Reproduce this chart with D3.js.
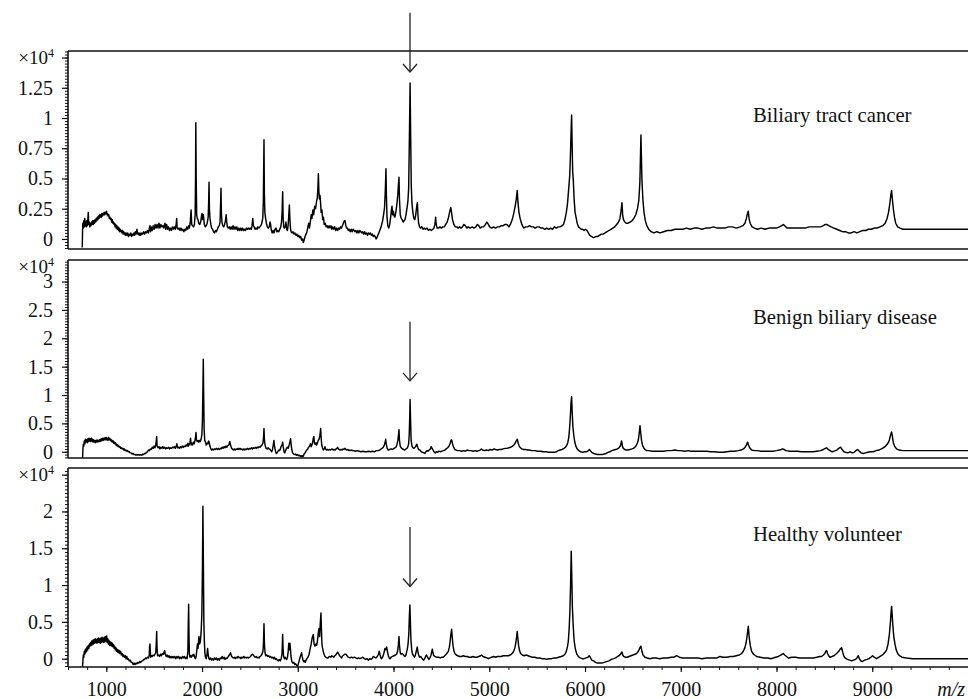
<!DOCTYPE html>
<html><head><meta charset="utf-8">
<script src="https://cdn.jsdelivr.net/npm/d3@7"></script>
<style>
body{margin:0;background:#fff}
svg text{font-family:"Liberation Serif","DejaVu Serif",serif !important;fill:#111}
</style>
</head><body>
<svg id="chart" width="968" height="699"></svg>
<script>
// ---------- data (intensity in units of 10^4) ----------
const panelNames = ["Biliary tract cancer", "Benign biliary disease", "Healthy volunteer"];
const xTicks = [1000, 2000, 3000, 4000, 5000, 6000, 7000, 8000, 9000];
const xMinorTicks = d3.range(600, 10001, 200);
const yTicksCancer = [0, 0.25, 0.5, 0.75, 1, 1.25, 1.5];
const yTicksBenign = [0, 0.5, 1, 1.5, 2, 2.5, 3];
const yTicksHealthy = [0, 0.5, 1, 1.5, 2, 2.5];
const arrowMz = 4172;
const arrowSpans = [[1.87, 1.38], [2.29, 1.25], [1.79, 0.98]];

const cancerSpectrum = [
[749,-0.07],[752,0.06],[755,0.13],[760,0.09],[765,0.15],[770,0.1],[775,0.17],[780,0.11],[785,0.14],[790,0.1],[796,0.15],[802,0.11],[808,0.17],[812,0.22],[816,0.12],[822,0.14],[828,0.1],[834,0.13],[840,0.11],[846,0.14],[852,0.12],[858,0.15],[864,0.12],[870,0.15],[876,0.13],[882,0.16],[888,0.14],[894,0.17],[900,0.15],[906,0.18],[912,0.16],[918,0.19],[924,0.17],[930,0.2],[936,0.18],[942,0.2],[948,0.18],[954,0.21],[960,0.19],[966,0.21],[972,0.2],[978,0.22],[984,0.2],[990,0.22],[996,0.21],[1002,0.23],[1008,0.2],[1014,0.21],[1020,0.19],[1026,0.2],[1032,0.17],[1038,0.18],[1044,0.16],[1050,0.17],[1056,0.14],[1062,0.16],[1068,0.13],[1074,0.14],[1080,0.12],[1086,0.13],[1092,0.1],[1098,0.12],[1104,0.09],[1110,0.11],[1116,0.08],[1122,0.1],[1128,0.07],[1134,0.09],[1140,0.06],[1146,0.08],[1152,0.06],[1158,0.07],[1164,0.05],[1170,0.07],[1176,0.04],[1182,0.06],[1188,0.04],[1194,0.05],[1200,0.03],[1208,0.05],[1216,0.03],[1224,0.05],[1232,0.02],[1240,0.04],[1248,0.03],[1256,0.05],[1264,0.02],[1272,0.04],[1280,0.03],[1288,0.05],[1296,0.03],[1304,0.06],[1312,0.04],[1320,0.08],[1328,0.04],[1336,0.05],[1344,0.03],[1352,0.05],[1360,0.03],[1370,0.05],[1380,0.04],[1390,0.06],[1400,0.04],[1410,0.06],[1420,0.05],[1430,0.07],[1440,0.05],[1450,0.09],[1456,0.11],[1462,0.06],[1470,0.1],[1480,0.07],[1490,0.11],[1500,0.08],[1510,0.12],[1520,0.09],[1530,0.12],[1540,0.09],[1550,0.13],[1560,0.09],[1570,0.12],[1580,0.1],[1590,0.11],[1600,0.09],[1608,0.12],[1613,0.13],[1620,0.08],[1630,0.12],[1640,0.08],[1650,0.1],[1660,0.07],[1670,0.09],[1680,0.07],[1690,0.1],[1700,0.08],[1710,0.1],[1720,0.08],[1730,0.12],[1735,0.17],[1740,0.09],[1750,0.08],[1760,0.09],[1770,0.07],[1780,0.09],[1790,0.07],[1800,0.08],[1810,0.06],[1820,0.08],[1830,0.07],[1840,0.1],[1850,0.08],[1860,0.11],[1868,0.09],[1876,0.13],[1882,0.2],[1886,0.24],[1892,0.12],[1900,0.11],[1910,0.1],[1920,0.12],[1928,0.2],[1932,0.5],[1935,0.96],[1939,0.5],[1944,0.2],[1950,0.17],[1958,0.16],[1966,0.13],[1976,0.12],[1986,0.14],[1994,0.19],[2000,0.21],[2006,0.16],[2014,0.2],[2024,0.12],[2034,0.1],[2044,0.11],[2054,0.13],[2064,0.18],[2069,0.3],[2073,0.47],[2077,0.25],[2083,0.17],[2092,0.12],[2100,0.09],[2110,0.08],[2120,0.06],[2130,0.05],[2140,0.07],[2150,0.06],[2160,0.08],[2170,0.1],[2180,0.11],[2188,0.14],[2194,0.3],[2198,0.42],[2202,0.22],[2208,0.14],[2216,0.11],[2226,0.1],[2236,0.12],[2244,0.15],[2252,0.2],[2258,0.14],[2264,0.1],[2274,0.09],[2284,0.1],[2294,0.08],[2304,0.1],[2314,0.08],[2324,0.11],[2334,0.08],[2344,0.1],[2354,0.08],[2364,0.1],[2374,0.07],[2384,0.09],[2394,0.07],[2404,0.09],[2414,0.07],[2424,0.09],[2434,0.07],[2444,0.08],[2454,0.07],[2464,0.09],[2474,0.08],[2484,0.09],[2494,0.08],[2504,0.09],[2514,0.08],[2522,0.11],[2530,0.17],[2536,0.11],[2544,0.1],[2554,0.08],[2564,0.09],[2574,0.08],[2584,0.1],[2594,0.09],[2604,0.1],[2614,0.11],[2624,0.13],[2634,0.17],[2640,0.3],[2647,0.82],[2651,0.38],[2656,0.22],[2664,0.17],[2672,0.13],[2682,0.1],[2692,0.09],[2702,0.1],[2710,0.14],[2716,0.12],[2722,0.08],[2732,0.05],[2742,0.07],[2752,0.05],[2762,0.08],[2772,0.09],[2782,0.06],[2792,0.07],[2802,0.06],[2812,0.08],[2822,0.1],[2830,0.14],[2836,0.22],[2842,0.39],[2847,0.18],[2853,0.1],[2860,0.09],[2868,0.1],[2876,0.14],[2884,0.08],[2892,0.07],[2900,0.12],[2906,0.2],[2912,0.28],[2917,0.18],[2923,0.09],[2930,0.06],[2940,0.05],[2950,0.06],[2960,0.04],[2970,0.05],[2980,0.03],[2990,0.04],[3000,0.02],[3010,0.03],[3020,0.01],[3030,0.02],[3040,-0.01],[3050,0.0],[3058,-0.03],[3066,-0.01],[3076,0.02],[3086,0.04],[3096,0.06],[3106,0.1],[3114,0.13],[3122,0.09],[3132,0.15],[3140,0.2],[3148,0.17],[3158,0.24],[3166,0.2],[3176,0.27],[3186,0.25],[3196,0.31],[3204,0.34],[3210,0.42],[3215,0.54],[3220,0.4],[3226,0.33],[3232,0.36],[3238,0.3],[3244,0.22],[3252,0.24],[3260,0.16],[3268,0.18],[3276,0.12],[3286,0.13],[3296,0.1],[3306,0.11],[3316,0.09],[3326,0.11],[3336,0.09],[3346,0.11],[3356,0.08],[3366,0.1],[3376,0.08],[3386,0.1],[3396,0.07],[3406,0.09],[3416,0.07],[3426,0.09],[3436,0.08],[3446,0.1],[3456,0.09],[3466,0.11],[3476,0.13],[3486,0.15],[3494,0.15],[3502,0.11],[3510,0.09],[3518,0.09],[3528,0.07],[3538,0.08],[3548,0.06],[3558,0.08],[3568,0.06],[3578,0.08],[3588,0.07],[3598,0.06],[3608,0.07],[3618,0.05],[3628,0.07],[3638,0.05],[3648,0.07],[3658,0.06],[3668,0.05],[3678,0.06],[3688,0.04],[3698,0.06],[3708,0.04],[3718,0.05],[3728,0.03],[3738,0.05],[3748,0.04],[3758,0.05],[3768,0.03],[3778,0.04],[3788,0.02],[3798,0.03],[3808,0.02],[3818,0.0],[3826,0.01],[3836,0.03],[3846,0.05],[3856,0.07],[3866,0.09],[3876,0.12],[3886,0.15],[3896,0.2],[3906,0.26],[3914,0.4],[3921,0.58],[3926,0.35],[3932,0.18],[3940,0.11],[3950,0.09],[3960,0.12],[3970,0.18],[3978,0.24],[3984,0.27],[3990,0.2],[3998,0.23],[4006,0.19],[4014,0.18],[4024,0.22],[4034,0.28],[4044,0.36],[4052,0.46],[4057,0.51],[4062,0.33],[4070,0.2],[4080,0.17],[4090,0.16],[4100,0.14],[4110,0.15],[4120,0.16],[4130,0.2],[4140,0.25],[4150,0.31],[4158,0.42],[4165,0.8],[4173,1.29],[4179,0.85],[4185,0.45],[4192,0.3],[4202,0.22],[4212,0.17],[4222,0.16],[4232,0.2],[4242,0.27],[4249,0.3],[4255,0.2],[4262,0.13],[4272,0.1],[4282,0.09],[4295,0.1],[4308,0.08],[4320,0.09],[4335,0.08],[4350,0.09],[4365,0.07],[4380,0.08],[4395,0.07],[4410,0.08],[4422,0.09],[4432,0.12],[4440,0.18],[4446,0.12],[4455,0.09],[4470,0.09],[4485,0.1],[4500,0.09],[4515,0.1],[4530,0.1],[4545,0.12],[4560,0.14],[4575,0.18],[4588,0.23],[4598,0.26],[4606,0.22],[4616,0.16],[4630,0.12],[4645,0.1],[4660,0.1],[4675,0.09],[4690,0.1],[4705,0.09],[4720,0.1],[4735,0.12],[4750,0.11],[4765,0.09],[4780,0.1],[4800,0.09],[4820,0.1],[4840,0.09],[4860,0.1],[4875,0.12],[4890,0.11],[4905,0.09],[4920,0.1],[4940,0.1],[4960,0.12],[4975,0.14],[4990,0.12],[5005,0.1],[5025,0.09],[5045,0.1],[5065,0.09],[5085,0.1],[5105,0.1],[5125,0.11],[5145,0.11],[5165,0.12],[5185,0.12],[5205,0.1],[5220,0.12],[5240,0.16],[5255,0.21],[5270,0.27],[5282,0.33],[5292,0.4],[5300,0.3],[5310,0.22],[5322,0.17],[5340,0.12],[5360,0.09],[5380,0.1],[5400,0.1],[5420,0.11],[5440,0.1],[5460,0.1],[5480,0.09],[5500,0.1],[5520,0.1],[5540,0.09],[5560,0.09],[5580,0.08],[5600,0.09],[5620,0.08],[5640,0.09],[5660,0.08],[5680,0.1],[5700,0.09],[5720,0.1],[5740,0.1],[5760,0.11],[5775,0.12],[5790,0.16],[5805,0.22],[5818,0.3],[5830,0.42],[5840,0.52],[5848,0.7],[5855,0.9],[5860,1.025],[5865,0.8],[5871,0.56],[5878,0.48],[5886,0.33],[5896,0.22],[5906,0.18],[5918,0.13],[5932,0.1],[5946,0.09],[5960,0.08],[5975,0.08],[5990,0.07],[6005,0.08],[6020,0.07],[6035,0.05],[6050,0.03],[6070,0.02],[6090,0.01],[6110,0.02],[6130,0.02],[6150,0.03],[6170,0.04],[6190,0.04],[6210,0.05],[6230,0.06],[6250,0.07],[6270,0.08],[6290,0.09],[6310,0.1],[6330,0.12],[6350,0.14],[6365,0.17],[6376,0.23],[6386,0.3],[6393,0.2],[6402,0.16],[6415,0.14],[6430,0.13],[6450,0.13],[6470,0.14],[6490,0.15],[6510,0.17],[6530,0.2],[6548,0.25],[6562,0.32],[6573,0.47],[6584,0.86],[6594,0.5],[6604,0.33],[6616,0.22],[6630,0.15],[6645,0.11],[6665,0.08],[6690,0.06],[6720,0.05],[6750,0.06],[6783,0.05],[6820,0.06],[6860,0.07],[6900,0.07],[6940,0.08],[6980,0.08],[7020,0.08],[7060,0.09],[7100,0.08],[7140,0.09],[7180,0.09],[7220,0.08],[7260,0.09],[7300,0.09],[7340,0.1],[7380,0.09],[7420,0.09],[7460,0.09],[7500,0.1],[7540,0.1],[7580,0.09],[7620,0.1],[7650,0.11],[7670,0.13],[7685,0.17],[7696,0.21],[7705,0.23],[7713,0.17],[7725,0.13],[7745,0.1],[7770,0.09],[7800,0.08],[7840,0.09],[7880,0.08],[7920,0.09],[7960,0.09],[8000,0.09],[8030,0.1],[8055,0.11],[8071,0.12],[8085,0.11],[8110,0.09],[8140,0.09],[8180,0.09],[8220,0.09],[8260,0.09],[8300,0.09],[8340,0.1],[8380,0.1],[8420,0.1],[8460,0.1],[8490,0.11],[8510,0.12],[8524,0.12],[8545,0.11],[8570,0.1],[8600,0.09],[8630,0.08],[8660,0.07],[8690,0.06],[8720,0.06],[8750,0.05],[8780,0.05],[8810,0.06],[8840,0.05],[8870,0.06],[8900,0.07],[8930,0.07],[8960,0.08],[8990,0.08],[9020,0.09],[9050,0.09],[9080,0.1],[9110,0.11],[9135,0.13],[9155,0.17],[9170,0.22],[9185,0.3],[9195,0.37],[9202,0.4],[9210,0.33],[9220,0.25],[9232,0.18],[9245,0.13],[9265,0.1],[9290,0.09],[9320,0.08],[9360,0.08],[9400,0.08],[9450,0.08],[9500,0.08],[9550,0.08],[9600,0.08],[9650,0.08],[9700,0.08],[9750,0.08],[9800,0.08],[9850,0.08],[9900,0.08],[9950,0.08],[10000,0.08]
];

const benignSpectrum = [
[752,-0.12],[756,0.05],[760,0.13],[765,0.1],[770,0.19],[776,0.14],[782,0.22],[788,0.17],[795,0.21],[802,0.16],[808,0.23],[814,0.18],[820,0.24],[826,0.19],[832,0.23],[838,0.18],[844,0.24],[850,0.19],[856,0.22],[862,0.17],[868,0.21],[874,0.17],[880,0.2],[886,0.16],[892,0.2],[898,0.17],[904,0.21],[910,0.17],[916,0.2],[922,0.18],[928,0.21],[934,0.18],[940,0.22],[946,0.19],[952,0.23],[958,0.2],[964,0.24],[970,0.2],[976,0.24],[982,0.21],[988,0.25],[994,0.21],[1000,0.25],[1006,0.21],[1012,0.24],[1018,0.2],[1024,0.25],[1030,0.21],[1036,0.24],[1042,0.2],[1048,0.22],[1054,0.18],[1060,0.2],[1066,0.17],[1072,0.19],[1078,0.15],[1084,0.17],[1090,0.14],[1096,0.16],[1102,0.12],[1108,0.13],[1114,0.1],[1120,0.12],[1126,0.09],[1132,0.1],[1138,0.08],[1144,0.09],[1150,0.06],[1158,0.07],[1166,0.05],[1174,0.06],[1182,0.03],[1190,0.05],[1198,0.02],[1206,0.03],[1214,0.01],[1222,0.02],[1230,0.0],[1240,0.0],[1250,-0.02],[1260,-0.02],[1270,-0.04],[1280,-0.03],[1290,-0.05],[1300,-0.05],[1310,-0.06],[1320,-0.05],[1330,-0.06],[1340,-0.05],[1350,-0.06],[1360,-0.05],[1370,-0.06],[1380,-0.04],[1390,-0.05],[1400,-0.03],[1410,-0.03],[1420,-0.01],[1430,0.0],[1440,0.03],[1450,0.02],[1460,0.05],[1470,0.04],[1480,0.08],[1490,0.06],[1500,0.1],[1508,0.07],[1516,0.12],[1521,0.18],[1526,0.27],[1531,0.1],[1540,0.07],[1550,0.09],[1560,0.05],[1570,0.08],[1580,0.06],[1590,0.09],[1600,0.06],[1610,0.08],[1620,0.05],[1630,0.07],[1640,0.06],[1650,0.08],[1660,0.05],[1670,0.07],[1680,0.06],[1690,0.08],[1700,0.07],[1710,0.09],[1720,0.06],[1730,0.1],[1738,0.14],[1744,0.07],[1754,0.08],[1764,0.06],[1774,0.09],[1784,0.07],[1794,0.1],[1804,0.08],[1814,0.1],[1824,0.09],[1834,0.12],[1844,0.1],[1852,0.15],[1858,0.1],[1866,0.13],[1874,0.16],[1880,0.24],[1886,0.12],[1894,0.15],[1902,0.12],[1910,0.17],[1918,0.14],[1926,0.2],[1932,0.26],[1937,0.34],[1942,0.2],[1950,0.18],[1958,0.2],[1966,0.17],[1974,0.2],[1982,0.18],[1990,0.22],[1998,0.3],[2004,0.55],[2010,1.2],[2013,1.63],[2017,1.0],[2022,0.4],[2028,0.2],[2036,0.17],[2044,0.12],[2052,0.15],[2060,0.14],[2068,0.19],[2074,0.17],[2082,0.1],[2090,0.06],[2100,0.03],[2110,0.05],[2120,0.03],[2130,0.05],[2140,0.04],[2150,0.06],[2160,0.04],[2170,0.06],[2180,0.04],[2190,0.06],[2200,0.05],[2210,0.08],[2220,0.06],[2230,0.09],[2240,0.07],[2250,0.1],[2260,0.08],[2270,0.11],[2280,0.12],[2290,0.18],[2298,0.12],[2306,0.07],[2316,0.05],[2326,0.03],[2336,0.05],[2346,0.03],[2356,0.05],[2366,0.04],[2376,0.06],[2386,0.04],[2396,0.06],[2406,0.04],[2416,0.05],[2426,0.03],[2436,0.05],[2446,0.03],[2456,0.05],[2466,0.04],[2476,0.06],[2486,0.04],[2496,0.06],[2506,0.05],[2516,0.07],[2526,0.05],[2536,0.07],[2546,0.06],[2556,0.08],[2566,0.06],[2576,0.08],[2586,0.07],[2596,0.09],[2606,0.08],[2616,0.1],[2626,0.12],[2636,0.15],[2642,0.25],[2647,0.41],[2652,0.2],[2660,0.1],[2670,0.06],[2680,0.05],[2690,0.07],[2700,0.05],[2710,0.04],[2720,0.02],[2728,0.0],[2736,0.04],[2744,0.12],[2751,0.2],[2757,0.1],[2765,0.03],[2772,-0.02],[2780,-0.03],[2790,0.0],[2800,0.03],[2810,0.02],[2820,0.06],[2828,0.1],[2836,0.12],[2842,0.17],[2848,0.09],[2856,0.0],[2864,-0.02],[2872,0.02],[2880,0.05],[2890,0.08],[2900,0.06],[2910,0.12],[2918,0.18],[2925,0.23],[2931,0.12],[2938,0.03],[2946,-0.02],[2956,-0.04],[2966,-0.05],[2976,-0.04],[2986,-0.06],[2996,-0.05],[3006,-0.07],[3016,-0.06],[3026,-0.08],[3036,-0.07],[3044,-0.09],[3052,-0.07],[3058,-0.08],[3066,-0.04],[3076,-0.02],[3086,0.01],[3094,0.03],[3104,0.05],[3114,0.08],[3124,0.1],[3132,0.14],[3140,0.09],[3148,0.12],[3156,0.18],[3162,0.24],[3168,0.27],[3174,0.15],[3182,0.13],[3190,0.16],[3197,0.12],[3205,0.15],[3214,0.2],[3222,0.22],[3230,0.28],[3236,0.36],[3239,0.41],[3244,0.25],[3250,0.12],[3258,0.07],[3267,0.03],[3276,0.05],[3284,0.09],[3290,0.05],[3300,0.03],[3310,0.04],[3320,0.03],[3330,0.04],[3340,0.03],[3350,0.04],[3360,0.05],[3370,0.03],[3380,0.04],[3390,0.03],[3400,0.05],[3410,0.06],[3416,0.08],[3422,0.05],[3432,0.04],[3442,0.03],[3452,0.04],[3462,0.03],[3472,0.05],[3482,0.04],[3493,0.06],[3503,0.04],[3513,0.03],[3523,0.04],[3533,0.02],[3543,0.03],[3553,0.02],[3563,0.03],[3573,0.02],[3583,0.02],[3600,0.01],[3620,0.02],[3640,0.01],[3660,0.0],[3680,0.01],[3700,0.0],[3719,0.0],[3740,0.01],[3760,0.0],[3780,0.01],[3800,0.0],[3820,0.02],[3840,0.02],[3858,0.03],[3870,0.05],[3880,0.06],[3893,0.08],[3905,0.12],[3913,0.18],[3918,0.22],[3924,0.14],[3932,0.07],[3945,0.03],[3960,0.04],[3975,0.05],[3990,0.04],[4005,0.06],[4015,0.07],[4025,0.08],[4035,0.12],[4045,0.2],[4052,0.3],[4057,0.39],[4062,0.2],[4070,0.1],[4080,0.07],[4092,0.05],[4105,0.04],[4118,0.03],[4130,0.05],[4140,0.06],[4150,0.09],[4158,0.14],[4164,0.3],[4169,0.6],[4173,0.92],[4178,0.55],[4184,0.2],[4192,0.1],[4200,0.08],[4210,0.06],[4220,0.07],[4230,0.09],[4238,0.12],[4244,0.13],[4252,0.08],[4262,0.04],[4275,0.03],[4290,0.0],[4305,-0.01],[4318,-0.02],[4328,-0.03],[4338,0.0],[4350,0.02],[4360,0.01],[4372,0.03],[4385,0.05],[4393,0.09],[4400,0.07],[4410,0.04],[4422,0.0],[4435,-0.02],[4448,0.0],[4460,-0.01],[4475,0.01],[4490,0.0],[4505,0.01],[4520,0.02],[4535,0.03],[4550,0.05],[4565,0.07],[4580,0.1],[4592,0.15],[4600,0.2],[4607,0.21],[4615,0.15],[4625,0.09],[4640,0.04],[4655,0.03],[4670,0.02],[4690,0.02],[4710,0.01],[4730,0.02],[4750,0.01],[4770,0.03],[4790,0.02],[4810,0.02],[4830,0.01],[4850,0.02],[4870,0.01],[4890,0.02],[4905,0.03],[4918,0.05],[4930,0.03],[4950,0.02],[4970,0.03],[4990,0.02],[5010,0.04],[5030,0.03],[5050,0.05],[5065,0.04],[5085,0.03],[5105,0.04],[5125,0.04],[5145,0.05],[5165,0.06],[5185,0.06],[5205,0.07],[5225,0.08],[5245,0.1],[5262,0.13],[5275,0.17],[5285,0.2],[5293,0.22],[5302,0.15],[5313,0.1],[5325,0.07],[5340,0.05],[5360,0.04],[5380,0.04],[5400,0.03],[5420,0.03],[5440,0.02],[5460,0.02],[5480,0.02],[5500,0.01],[5520,0.01],[5540,0.01],[5560,0.0],[5580,0.0],[5600,0.0],[5620,-0.01],[5640,-0.01],[5660,-0.01],[5680,-0.01],[5700,0.0],[5720,0.02],[5740,0.03],[5760,0.04],[5780,0.06],[5795,0.08],[5808,0.11],[5820,0.16],[5830,0.25],[5838,0.4],[5846,0.6],[5853,0.85],[5860,0.97],[5866,0.7],[5873,0.45],[5882,0.3],[5892,0.18],[5904,0.1],[5918,0.05],[5935,0.02],[5955,0.0],[5975,-0.01],[5995,0.0],[6015,0.0],[6035,0.02],[6045,0.04],[6055,0.02],[6070,-0.01],[6090,-0.03],[6110,-0.04],[6130,-0.05],[6156,-0.05],[6180,-0.05],[6200,-0.04],[6220,-0.03],[6240,-0.01],[6260,0.0],[6280,0.02],[6300,0.03],[6320,0.04],[6340,0.05],[6355,0.07],[6368,0.1],[6376,0.15],[6382,0.19],[6390,0.1],[6400,0.06],[6415,0.04],[6430,0.03],[6450,0.03],[6470,0.04],[6490,0.05],[6505,0.06],[6520,0.08],[6535,0.11],[6548,0.16],[6558,0.22],[6566,0.33],[6574,0.46],[6582,0.33],[6590,0.2],[6600,0.12],[6612,0.07],[6625,0.04],[6645,0.02],[6670,0.02],[6700,0.01],[6740,0.01],[6780,0.01],[6820,0.01],[6860,0.02],[6900,0.02],[6939,0.03],[6970,0.02],[7000,0.02],[7040,0.01],[7078,0.02],[7110,0.01],[7150,0.01],[7190,0.01],[7230,0.01],[7270,0.01],[7310,0.0],[7350,0.0],[7400,-0.01],[7444,-0.01],[7480,0.0],[7520,0.01],[7560,0.01],[7600,0.02],[7630,0.03],[7655,0.05],[7672,0.08],[7686,0.12],[7698,0.17],[7708,0.12],[7720,0.07],[7740,0.03],[7770,0.02],[7800,0.02],[7840,0.01],[7880,0.01],[7920,0.01],[7960,0.01],[8000,0.02],[8030,0.03],[8050,0.04],[8063,0.05],[8078,0.04],[8100,0.02],[8140,0.01],[8180,0.01],[8220,0.01],[8260,0.0],[8300,0.0],[8340,0.0],[8380,0.0],[8420,0.01],[8460,0.02],[8490,0.04],[8510,0.06],[8523,0.07],[8540,0.04],[8560,0.02],[8580,0.0],[8600,0.01],[8630,0.03],[8650,0.06],[8669,0.08],[8685,0.04],[8705,0.0],[8720,-0.01],[8745,-0.02],[8770,0.0],[8790,-0.02],[8810,-0.01],[8830,0.02],[8847,0.04],[8865,0.01],[8885,-0.02],[8906,-0.03],[8930,-0.02],[8955,-0.01],[8980,0.0],[9010,0.0],[9040,0.02],[9070,0.03],[9095,0.05],[9115,0.07],[9140,0.1],[9160,0.14],[9178,0.2],[9192,0.3],[9202,0.35],[9210,0.27],[9220,0.16],[9236,0.09],[9255,0.05],[9280,0.03],[9323,0.02],[9380,0.02],[9440,0.02],[9500,0.02],[9560,0.02],[9620,0.02],[9680,0.02],[9740,0.02],[9800,0.02],[9860,0.02],[9920,0.02],[10000,0.02]
];

const healthySpectrum = [
[752,-0.11],[756,-0.02],[760,0.05],[765,0.02],[770,0.1],[775,0.06],[780,0.12],[785,0.08],[790,0.14],[795,0.1],[800,0.16],[806,0.12],[812,0.18],[818,0.14],[824,0.2],[830,0.17],[836,0.22],[842,0.18],[848,0.24],[854,0.19],[860,0.25],[866,0.2],[872,0.26],[878,0.21],[884,0.27],[890,0.22],[896,0.26],[902,0.21],[908,0.27],[914,0.22],[920,0.28],[926,0.22],[932,0.27],[938,0.21],[944,0.28],[950,0.22],[956,0.29],[962,0.23],[968,0.28],[974,0.22],[980,0.29],[986,0.23],[992,0.3],[998,0.24],[1004,0.31],[1010,0.22],[1016,0.27],[1022,0.2],[1028,0.25],[1034,0.18],[1040,0.23],[1046,0.18],[1052,0.22],[1058,0.17],[1064,0.21],[1070,0.16],[1076,0.19],[1082,0.14],[1088,0.17],[1094,0.12],[1100,0.15],[1106,0.1],[1112,0.13],[1118,0.09],[1124,0.12],[1130,0.08],[1136,0.11],[1142,0.07],[1150,0.1],[1158,0.05],[1166,0.07],[1174,0.03],[1182,0.05],[1190,0.02],[1198,0.04],[1206,0.0],[1214,0.03],[1222,-0.01],[1230,0.0],[1240,-0.03],[1250,-0.02],[1260,-0.05],[1270,-0.05],[1280,-0.08],[1290,-0.06],[1300,-0.08],[1310,-0.06],[1320,-0.07],[1330,-0.05],[1340,-0.06],[1350,-0.04],[1360,-0.05],[1370,-0.03],[1380,-0.03],[1390,-0.01],[1400,-0.01],[1410,0.01],[1420,0.0],[1430,0.02],[1440,0.01],[1448,0.04],[1452,0.15],[1456,0.2],[1460,0.1],[1464,0.02],[1472,0.04],[1480,0.03],[1490,0.05],[1500,0.04],[1508,0.06],[1516,0.08],[1522,0.2],[1526,0.37],[1530,0.15],[1536,0.04],[1546,0.05],[1556,0.03],[1566,0.06],[1576,0.04],[1586,0.07],[1596,0.06],[1604,0.09],[1610,0.11],[1616,0.06],[1626,0.03],[1636,0.05],[1646,0.02],[1656,0.04],[1666,0.01],[1676,0.03],[1686,0.01],[1696,0.03],[1706,0.01],[1716,0.03],[1726,0.0],[1736,0.03],[1746,0.01],[1756,0.03],[1766,0.0],[1776,0.02],[1786,0.0],[1796,0.03],[1806,0.01],[1816,0.03],[1826,0.0],[1836,0.02],[1844,0.0],[1852,0.1],[1856,0.45],[1860,0.74],[1864,0.3],[1868,0.06],[1874,0.02],[1882,0.04],[1890,0.02],[1898,0.05],[1906,0.04],[1914,0.06],[1922,0.02],[1930,0.0],[1938,0.03],[1946,0.12],[1952,0.2],[1958,0.14],[1964,0.25],[1968,0.3],[1974,0.2],[1982,0.23],[1990,0.35],[1998,0.6],[2004,1.2],[2009,2.07],[2014,1.3],[2019,0.5],[2024,0.24],[2030,0.08],[2036,0.02],[2044,0.0],[2052,0.06],[2058,0.14],[2064,0.06],[2072,0.0],[2080,-0.01],[2090,0.01],[2100,-0.02],[2110,0.0],[2120,-0.02],[2130,0.01],[2140,-0.01],[2150,0.01],[2160,-0.02],[2170,0.0],[2180,-0.02],[2190,0.01],[2200,0.0],[2210,0.03],[2220,0.0],[2230,0.02],[2240,-0.01],[2250,0.01],[2260,0.0],[2270,0.02],[2280,0.04],[2290,0.06],[2298,0.08],[2306,0.04],[2316,0.02],[2326,0.01],[2336,0.02],[2346,0.0],[2356,0.02],[2366,0.01],[2376,0.03],[2386,0.01],[2396,0.02],[2406,0.0],[2416,0.02],[2426,0.01],[2436,0.03],[2446,0.01],[2456,0.02],[2466,0.01],[2476,0.02],[2486,0.01],[2496,0.02],[2506,0.03],[2516,0.05],[2526,0.06],[2536,0.05],[2546,0.03],[2556,0.02],[2566,0.03],[2576,0.01],[2586,0.02],[2596,0.01],[2606,0.03],[2616,0.04],[2626,0.06],[2636,0.1],[2642,0.22],[2647,0.475],[2652,0.2],[2658,0.08],[2666,0.04],[2676,0.05],[2686,0.03],[2696,0.04],[2706,0.02],[2716,0.03],[2726,0.01],[2736,0.02],[2746,0.0],[2756,0.02],[2766,-0.01],[2776,0.0],[2786,-0.02],[2796,-0.03],[2806,-0.01],[2816,-0.03],[2826,0.0],[2834,0.05],[2838,0.15],[2842,0.33],[2846,0.15],[2852,0.03],[2860,0.0],[2868,0.02],[2876,0.0],[2884,-0.01],[2892,0.02],[2900,0.1],[2906,0.21],[2912,0.12],[2918,0.21],[2924,0.12],[2930,0.02],[2938,-0.04],[2948,-0.06],[2958,-0.05],[2968,-0.08],[2978,-0.07],[2988,-0.09],[2999,-0.1],[3008,-0.06],[3016,-0.02],[3024,0.02],[3032,0.05],[3040,0.08],[3046,0.03],[3054,-0.02],[3062,-0.04],[3070,-0.03],[3078,-0.05],[3086,-0.02],[3096,0.0],[3106,0.02],[3116,0.05],[3124,0.1],[3132,0.15],[3140,0.2],[3150,0.28],[3162,0.33],[3170,0.2],[3180,0.17],[3190,0.2],[3197,0.18],[3206,0.25],[3214,0.35],[3221,0.41],[3228,0.3],[3236,0.5],[3242,0.62],[3247,0.4],[3252,0.2],[3258,0.15],[3266,0.1],[3274,0.06],[3284,0.03],[3294,0.02],[3304,0.01],[3318,0.01],[3328,0.03],[3336,0.03],[3346,0.02],[3356,0.04],[3366,0.03],[3376,0.02],[3386,0.04],[3396,0.05],[3406,0.07],[3416,0.09],[3426,0.07],[3436,0.04],[3446,0.03],[3458,0.01],[3470,0.04],[3480,0.05],[3490,0.06],[3503,0.06],[3515,0.04],[3528,0.02],[3545,0.01],[3560,0.02],[3575,0.01],[3590,0.02],[3605,0.01],[3620,0.0],[3635,0.01],[3649,0.0],[3665,0.01],[3680,0.02],[3695,0.0],[3710,-0.01],[3725,0.0],[3736,-0.02],[3750,0.0],[3765,-0.01],[3780,0.01],[3789,0.03],[3800,0.02],[3815,0.01],[3830,0.03],[3842,0.06],[3851,0.1],[3860,0.05],[3868,0.01],[3876,0.0],[3886,0.02],[3896,0.06],[3904,0.1],[3910,0.14],[3918,0.12],[3928,0.16],[3936,0.1],[3946,0.04],[3955,0.01],[3963,0.0],[3975,0.02],[3990,0.03],[4005,0.04],[4020,0.05],[4032,0.06],[4042,0.1],[4050,0.18],[4057,0.3],[4062,0.18],[4070,0.08],[4080,0.06],[4090,0.07],[4100,0.06],[4110,0.04],[4119,0.03],[4130,0.05],[4138,0.1],[4144,0.13],[4152,0.2],[4160,0.35],[4166,0.6],[4171,0.73],[4176,0.5],[4182,0.25],[4190,0.12],[4199,0.06],[4210,0.04],[4218,0.02],[4226,0.04],[4236,0.09],[4242,0.13],[4248,0.16],[4254,0.1],[4262,0.05],[4272,0.02],[4283,0.03],[4294,0.01],[4305,-0.01],[4315,-0.02],[4325,0.0],[4335,0.03],[4345,0.05],[4355,0.02],[4370,-0.01],[4380,0.01],[4390,0.04],[4398,0.09],[4405,0.13],[4412,0.08],[4420,0.04],[4433,0.03],[4450,0.02],[4470,0.02],[4490,0.01],[4505,0.02],[4520,0.02],[4535,0.04],[4550,0.06],[4562,0.08],[4572,0.1],[4582,0.15],[4590,0.22],[4598,0.32],[4607,0.4],[4614,0.28],[4622,0.17],[4632,0.1],[4641,0.07],[4655,0.05],[4670,0.04],[4690,0.03],[4710,0.03],[4728,0.04],[4750,0.03],[4770,0.03],[4790,0.02],[4810,0.02],[4830,0.03],[4850,0.02],[4870,0.02],[4890,0.03],[4910,0.04],[4920,0.05],[4935,0.03],[4955,0.02],[4975,0.01],[4990,0.0],[5007,0.01],[5025,0.02],[5045,0.03],[5065,0.02],[5085,0.03],[5105,0.03],[5125,0.03],[5145,0.04],[5165,0.04],[5185,0.04],[5200,0.04],[5216,0.05],[5230,0.06],[5245,0.08],[5258,0.11],[5268,0.15],[5278,0.22],[5286,0.3],[5292,0.37],[5298,0.28],[5306,0.18],[5316,0.11],[5327,0.07],[5345,0.05],[5365,0.04],[5385,0.05],[5405,0.04],[5425,0.03],[5450,0.02],[5475,0.02],[5500,0.01],[5525,0.01],[5550,0.0],[5575,0.0],[5599,-0.01],[5625,0.0],[5650,0.0],[5675,0.01],[5700,0.01],[5725,0.02],[5750,0.03],[5773,0.04],[5790,0.06],[5805,0.1],[5816,0.16],[5825,0.23],[5834,0.4],[5842,0.64],[5849,1.0],[5856,1.46],[5862,1.1],[5868,0.7],[5877,0.44],[5886,0.25],[5898,0.14],[5912,0.07],[5930,0.03],[5950,0.01],[5970,0.0],[5990,0.0],[6010,0.01],[6030,0.02],[6044,0.04],[6055,0.02],[6070,-0.02],[6090,-0.03],[6110,-0.05],[6130,-0.06],[6150,-0.06],[6175,-0.06],[6200,-0.05],[6225,-0.04],[6250,-0.03],[6275,-0.01],[6300,0.0],[6320,0.01],[6340,0.03],[6355,0.04],[6370,0.06],[6380,0.08],[6386,0.09],[6394,0.05],[6405,0.03],[6420,0.02],[6440,0.02],[6460,0.03],[6480,0.04],[6500,0.05],[6520,0.06],[6538,0.07],[6552,0.09],[6564,0.12],[6574,0.15],[6584,0.17],[6594,0.1],[6606,0.05],[6626,0.02],[6650,0.01],[6678,0.0],[6710,0.01],[6740,0.01],[6780,0.0],[6820,0.01],[6860,0.01],[6900,0.02],[6930,0.02],[6957,0.04],[6985,0.02],[7020,0.01],[7060,0.01],[7100,0.01],[7140,0.01],[7180,0.01],[7220,0.0],[7270,0.01],[7310,0.01],[7350,0.01],[7380,0.01],[7409,0.03],[7440,0.02],[7480,0.02],[7520,0.03],[7549,0.03],[7580,0.04],[7610,0.05],[7635,0.07],[7653,0.1],[7670,0.15],[7683,0.22],[7695,0.33],[7705,0.44],[7714,0.3],[7726,0.18],[7740,0.1],[7760,0.06],[7792,0.03],[7830,0.02],[7870,0.01],[7910,0.01],[7940,0.0],[7966,0.01],[7990,0.02],[8020,0.03],[8045,0.05],[8060,0.06],[8071,0.07],[8085,0.05],[8105,0.03],[8123,0.01],[8160,0.02],[8200,0.02],[8240,0.01],[8280,0.01],[8320,0.01],[8360,0.01],[8384,0.01],[8420,0.02],[8450,0.03],[8471,0.03],[8490,0.05],[8505,0.07],[8515,0.1],[8523,0.11],[8533,0.07],[8545,0.04],[8558,0.02],[8580,0.03],[8600,0.04],[8618,0.06],[8635,0.08],[8650,0.1],[8665,0.13],[8680,0.15],[8693,0.08],[8705,0.03],[8715,0.01],[8740,-0.01],[8765,-0.02],[8784,-0.03],[8805,-0.02],[8825,-0.01],[8840,0.01],[8854,0.04],[8866,0.0],[8880,-0.03],[8895,-0.04],[8920,-0.02],[8945,-0.01],[8965,0.0],[8985,0.02],[9004,0.04],[9020,0.02],[9045,0.0],[9070,0.02],[9095,0.04],[9115,0.06],[9135,0.09],[9150,0.12],[9165,0.2],[9178,0.32],[9190,0.5],[9198,0.65],[9202,0.71],[9208,0.6],[9215,0.45],[9225,0.3],[9237,0.2],[9250,0.12],[9265,0.07],[9285,0.04],[9310,0.02],[9359,0.01],[9420,0.0],[9480,0.0],[9540,0.0],[9600,0.0],[9660,0.0],[9720,0.0],[9780,0.0],[9840,0.0],[9900,0.0],[9960,0.0],[10000,0.0]
];

// ---------- layout ----------
const svg = d3.select("#chart");
const xLeft = 68, xRight = 968;
const x = d3.scaleLinear().domain([600, 10000]).range([xLeft, xRight]);

const panels = [
  {name: panelNames[0], data: cancerSpectrum, top: 51, bottom: 249, domain: [-0.083, 1.554], ticks: yTicksCancer, minorStep: 0.025, labelDy: 71},
  {name: panelNames[1], data: benignSpectrum, top: 260, bottom: 458, domain: [-0.11, 3.38], ticks: yTicksBenign, minorStep: 0.05, labelDy: 64},
  {name: panelNames[2], data: healthySpectrum, top: 468, bottom: 667, domain: [-0.113, 2.59], ticks: yTicksHealthy, minorStep: 0.05, labelDy: 73}
];

const ink = "#111";
const serif = "'Liberation Serif', 'DejaVu Serif', serif";
const tickFont = "20px";

panels.forEach((p, i) => {
  const y = d3.scaleLinear().domain(p.domain).range([p.bottom, p.top]);
  const g = svg.append("g");

  svg.append("clipPath").attr("id", "clip" + i)
    .append("rect").attr("x", xLeft).attr("y", p.top)
    .attr("width", xRight - xLeft).attr("height", p.bottom - p.top);

  // spectrum
  g.append("path").datum(p.data)
    .attr("clip-path", `url(#clip${i})`)
    .attr("fill", "none").attr("stroke", "#000")
    .attr("stroke-width", 1.45).attr("stroke-linejoin", "round")
    .attr("d", d3.line().x(d => x(d[0])).y(d => y(d[1])));

  // frame lines (top, bottom, left)
  g.append("line").attr("x1", xLeft).attr("x2", xRight).attr("y1", p.top).attr("y2", p.top)
    .attr("stroke", ink).attr("stroke-width", 1.6);
  g.append("line").attr("x1", xLeft).attr("x2", xRight).attr("y1", p.bottom).attr("y2", p.bottom)
    .attr("stroke", ink).attr("stroke-width", 1.6);
  g.append("line").attr("x1", xLeft).attr("x2", xLeft).attr("y1", p.top).attr("y2", p.bottom)
    .attr("stroke", ink).attr("stroke-width", 1.6);

  // minor y ticks
  const s = p.minorStep;
  const minor = d3.range(Math.ceil(p.domain[0] / s), Math.floor(p.domain[1] / s) + 1).map(k => +(k * s).toFixed(4));
  const minorAxis = g.append("g").attr("transform", `translate(${xLeft},0)`)
    .call(d3.axisLeft(y).tickValues(minor).tickSize(3).tickFormat(""));
  minorAxis.select(".domain").remove();
  minorAxis.selectAll("line").attr("stroke", ink).attr("stroke-width", 1);

  // major y ticks + labels
  const majorAxis = g.append("g").attr("transform", `translate(${xLeft},0)`)
    .call(d3.axisLeft(y).tickValues(p.ticks).tickSize(6).tickPadding(9)
      .tickFormat(d => (y(d) - p.top < 12 ? "" : String(d))));
  majorAxis.attr("font-family", null).attr("font-size", null);
  majorAxis.select(".domain").remove();
  majorAxis.selectAll("line").attr("stroke", ink).attr("stroke-width", 1.2);
  majorAxis.selectAll("text").style("font-family", serif)
    .style("font-size", tickFont).attr("fill", ink);

  // exponent label
  const ex = g.append("text").attr("x", 54).attr("y", p.top + 13)
    .attr("text-anchor", "end").style("font-family", serif).style("font-size", "19px");
  ex.append("tspan").text("\u00d710");
  ex.append("tspan").attr("dy", -7).style("font-size", "12px").text("4");

  // panel label
  g.append("text").attr("x", 753).attr("y", p.top + p.labelDy)
    .style("font-family", serif).style("font-size", "20.7px").text(p.name);

  // arrow
  const ax = x(arrowMz), y1 = y(arrowSpans[i][0]), y2 = y(arrowSpans[i][1]);
  g.append("line").attr("x1", ax).attr("x2", ax).attr("y1", y1).attr("y2", y2)
    .attr("stroke", "#222").attr("stroke-width", 1.3);
  g.append("path").attr("d", `M${ax - 7},${y2 - 8}L${ax},${y2}L${ax + 7},${y2 - 8}`)
    .attr("fill", "none").attr("stroke", "#222").attr("stroke-width", 1.3);
});

// x axis (bottom panel only)
const axisY = panels[2].bottom;
const xMinor = svg.append("g").attr("transform", `translate(0,${axisY})`)
  .call(d3.axisBottom(x).tickValues(xMinorTicks).tickSize(3).tickFormat(""));
xMinor.select(".domain").remove();
xMinor.selectAll("line").attr("stroke", ink).attr("stroke-width", 1);

const xMajor = svg.append("g").attr("transform", `translate(0,${axisY})`)
  .call(d3.axisBottom(x).tickValues(xTicks).tickSize(5).tickFormat(d3.format("d")));
xMajor.attr("font-family", null).attr("font-size", null);
xMajor.select(".domain").remove();
xMajor.selectAll("line").attr("stroke", ink).attr("stroke-width", 1.2);
xMajor.selectAll("text").style("font-family", serif)
  .style("font-size", tickFont).attr("fill", ink).attr("y", 29).attr("dy", 0);

svg.append("text").attr("x", 965).attr("y", axisY + 29).attr("text-anchor", "end")
  .style("font-family", serif).style("font-size", "20px").style("font-style", "italic").text("m/z");
</script>
</body></html>
